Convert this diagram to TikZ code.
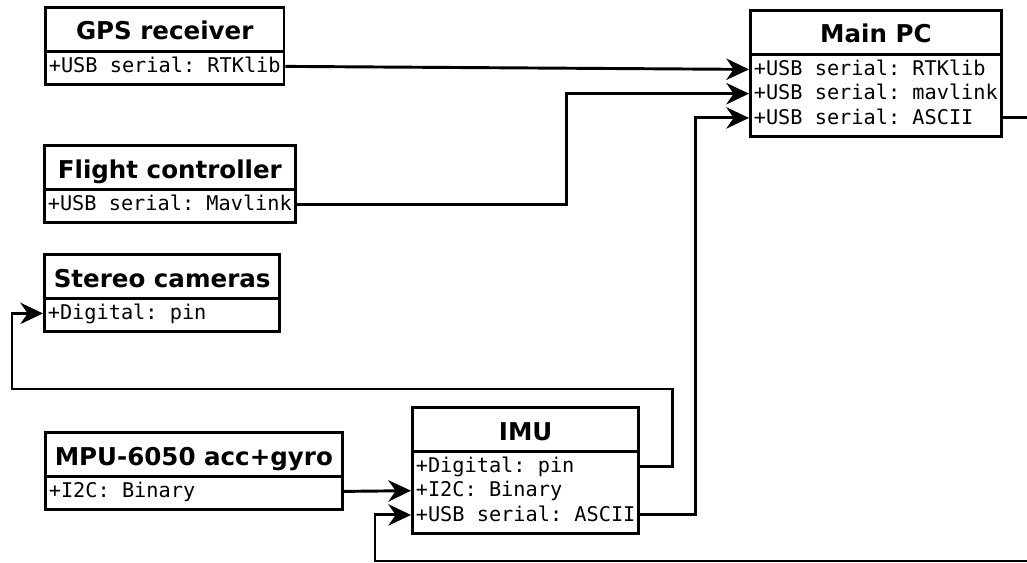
\documentclass[tikz,border=0pt]{standalone}
\usepackage{fontspec}
\setmainfont{DejaVu Sans}
\setmonofont{DejaVu Sans Mono}
\usetikzlibrary{shapes.multipart, arrows.meta, positioning}

\newcommand{\classtitle}[1]{{\normalfont\bfseries\fontsize{18.4}{21}\selectfont\rule[-5pt]{0pt}{26pt}\hspace*{4.5pt}#1\hspace*{4.5pt}}}

\begin{document}
\begin{tikzpicture}[
    x=0.75pt, y=-0.75pt,
    umlclass/.style={rectangle split, rectangle split parts=2, draw, line width=2.2pt, anchor=north west,
        inner xsep=2.5pt, inner ysep=2.3pt, rectangle split part align={center,left}, align=left,
        font=\ttfamily\fontsize{15.2}{18.2}\selectfont},
    link/.style={line width=2.2pt, -{Stealth[length=17pt, width=16pt, inset=5.5pt]}},
    row1/.style={yshift=-11.4pt},
    row2/.style={yshift=-29.6pt},
    row3/.style={yshift=-47.8pt}
]
\useasboundingbox (0,0) rectangle (1027,563);

% classes
\node[umlclass] (gps) at (44,6) {\classtitle{GPS receiver}\nodepart{two}+USB serial: RTKlib\strut};
\node[umlclass] (fc) at (43,144) {\classtitle{Flight controller}\nodepart{two}+USB serial: Mavlink\strut};
\node[umlclass] (stereo) at (43,253) {\classtitle{Stereo cameras}\nodepart{two}+Digital: pin\strut};
\node[umlclass] (mpu) at (44,431) {\classtitle{MPU-6050 acc+gyro}\nodepart{two}+I2C: Binary\strut};
\node[umlclass] (imu) at (411,406) {\classtitle{IMU}\nodepart{two}+Digital: pin\strut\\+I2C: Binary\strut\\+USB serial: ASCII\strut};
\node[umlclass] (mainpc) at (749,9) {\classtitle{Main PC}\nodepart{two}+USB serial: RTKlib\strut\\+USB serial: mavlink\strut\\+USB serial: ASCII\strut};

% connections
\coordinate (offpage) at (1045,561);
\draw[link] ([row1]gps.text split east) -- ([row1]mainpc.text split west);
\draw[link] ([row1]fc.text split east) -- ++(270,0) |- ([row2]mainpc.text split west);
\draw[link] ([row3]imu.text split east) -- ++(55,0) |- ([row3]mainpc.text split west);
\draw[link] ([row1]imu.text split east) -- ++(32,0) |- (12,389) |- ([row1]stereo.text split west);
\draw[link] ([row1]mpu.text split east) -- ([row2]imu.text split west);
\draw[link] ([row3]mainpc.text split east) -| (offpage) -- (375,561) |- ([row3]imu.text split west);
\end{tikzpicture}
\end{document}
